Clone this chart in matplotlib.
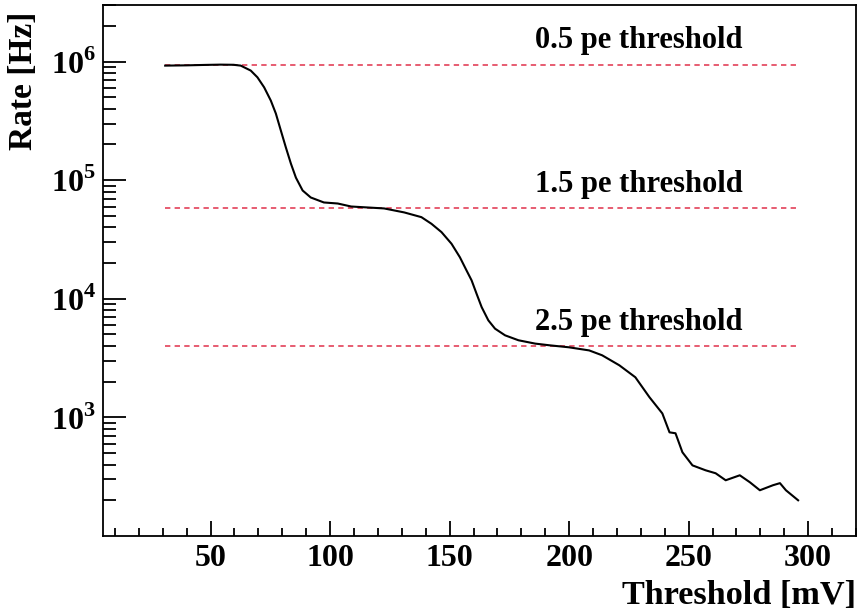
import numpy as np
import matplotlib
matplotlib.use('Agg')
from matplotlib import pyplot as plt
from matplotlib.ticker import FixedLocator, LogLocator, FuncFormatter, MultipleLocator

plt.rcParams['font.family'] = 'Liberation Serif'
plt.rcParams['font.weight'] = 'bold'
plt.rcParams['mathtext.fontset'] = 'custom'
plt.rcParams['mathtext.rm'] = 'Liberation Serif:bold'
plt.rcParams['mathtext.bf'] = 'Liberation Serif:bold'

# threshold scan
thr_mv = [31, 40, 48, 54.2, 59.6, 62.6, 66.8, 69.6, 72.4, 75.2, 77.3, 79.4, 81.5,
          83.6, 85.7, 88.5, 91.9, 97.4, 103.2, 108.8, 115.0, 122.6, 131.0, 138.2,
          142.4, 146.6, 150.8, 154.3, 157.1, 159.2, 161.3, 163.4, 166.2, 169.0,
          173.2, 178.8, 185.8, 192.0, 199.9, 208.4, 213.8, 221.0, 227.7, 233.6,
          239.0, 242.0, 244.5, 247.4, 251.6, 257.1, 261.3, 265.5, 271.4, 275.6,
          279.8, 285.3, 288.2, 290.7, 295.8]
rate_hz = [9.25e5, 9.3e5, 9.38e5, 9.43e5, 9.4e5, 9.25e5, 8.40e5, 7.37e5, 6.07e5,
           4.69e5, 3.65e5, 2.62e5, 1.886e5, 1.38e5, 1.05e5, 8.19e4, 7.15e4, 6.49e4,
           6.36e4, 6.0e4, 5.9e4, 5.78e4, 5.35e4, 4.88e4, 4.29e4, 3.65e4, 2.91e4,
           2.24e4, 1.73e4, 1.43e4, 1.10e4, 8.51e3, 6.58e3, 5.60e3, 4.92e3, 4.47e3,
           4.19e3, 4.05e3, 3.90e3, 3.67e3, 3.34e3, 2.75e3, 2.18e3, 1.48e3, 1.08e3,
           748, 735, 508, 394, 358, 338, 295, 325, 284, 243, 268, 279, 243, 200]

pe_levels = [9.4e5, 5.8e4, 4.0e3]
pe_names = ['0.5 pe threshold', '1.5 pe threshold', '2.5 pe threshold']
label_x = [229, 229, 229]

fig = plt.figure(figsize=(8.6, 6.12), dpi=100)
ax = fig.add_axes([0.1198, 0.1242, 0.8755, 0.8676])

for lvl, name, lx in zip(pe_levels, pe_names, label_x):
    ax.plot([thr_mv[0], thr_mv[-1]], [lvl, lvl], color='#e0304a', lw=1.1,
            dashes=(3.5, 2.8))
    ax.text(lx, lvl * 1.2, name, ha='center', va='bottom', fontsize=22,
            fontweight='bold')

ax.plot(thr_mv, rate_hz, color='black', lw=1.5)

ax.set_yscale('log')
ax.set_xlim(5, 320)
ax.set_ylim(100, 3e6)

ax.xaxis.set_major_locator(MultipleLocator(50))
ax.xaxis.set_minor_locator(MultipleLocator(10))
ax.yaxis.set_major_locator(FixedLocator([1e3, 1e4, 1e5, 1e6]))
ax.yaxis.set_minor_locator(LogLocator(base=10, subs=np.arange(2, 10)))
ax.yaxis.set_major_formatter(FuncFormatter(lambda v, p: r'$10^{%d}$' % round(np.log10(v))))
ax.yaxis.set_minor_formatter(FuncFormatter(lambda v, p: ''))

ax.tick_params(axis='both', which='both', direction='in', top=False, right=False,
               width=1.3, labelsize=23)
ax.tick_params(axis='x', which='major', length=11, pad=6)
ax.tick_params(axis='x', which='minor', length=6)
ax.tick_params(axis='y', which='major', length=16.5, pad=5)
ax.tick_params(axis='y', which='minor', length=9)
for s in ax.spines.values():
    s.set_linewidth(1.3)

ax.set_xlabel('Threshold [mV]', fontsize=24.7, fontweight='bold', loc='right')
ax.xaxis.set_label_coords(1.0, -0.083)
ax.set_ylabel('Rate [Hz]', fontsize=24, fontweight='bold', loc='top')
ax.yaxis.set_label_coords(-0.085, 0.988)

fig.savefig('out.png', dpi=100)
